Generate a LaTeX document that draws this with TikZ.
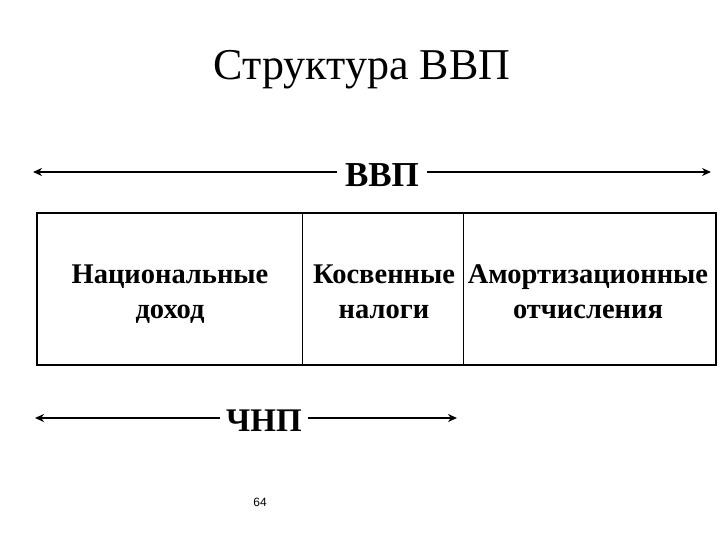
\documentclass[tikz,border=0pt]{standalone}
\usepackage{fontspec}
\setmainfont{Liberation Serif}
\newfontfamily\sansf{Liberation Sans}
\usetikzlibrary{arrows.meta}
\begin{document}
\begin{tikzpicture}[x=1pt,y=-1pt,
  arr/.style={line width=2.6pt,-{Stealth[length=9pt,width=8pt]}},
  lbl/.style={font=\fontsize{35}{38}\selectfont\bfseries,inner sep=8pt},
  txt/.style={font=\fontsize{28.5}{35}\selectfont\bfseries,align=center,inner sep=0pt,anchor=base}]
\useasboundingbox (0,0) rectangle (720,540);
\node (title) at (362,70) {\fontsize{44}{48}\selectfont Структура ВВП};
% top arrow
\node[lbl] (vvp) at (382,175) {ВВП};
\coordinate (vl) at (33,172);
\coordinate (vr) at (711,172);
\draw[arr] (vvp.west |- vl) -- (vl);
\draw[arr] (vvp.east |- vr) -- (vr);
% box
\draw[line width=2.6pt] (37,213) rectangle (716,365);
\draw[line width=1pt] (302,213) -- (302,365);
\draw[line width=1pt] (463,213) -- (463,365);
\node[txt] (nd) at (170,318) {Национальные\\доход};
\node[txt] (kn) at (384,318) {Косвенные\\налоги};
\node[txt] (ao) at (588,318) {Амортизационные\\отчисления};
% bottom arrow
\node[lbl,font=\fontsize{33}{36}\selectfont\bfseries,inner sep=6pt] (chnp) at (264,421) {ЧНП};
\coordinate (cl) at (35,418);
\coordinate (cr) at (457,418);
\draw[arr] (chnp.west |- cl) -- (cl);
\draw[arr] (chnp.east |- cr) -- (cr);
\node[font=\sansf\fontsize{12}{14}\selectfont] (pg) at (260,502) {64};
\end{tikzpicture}
\end{document}
